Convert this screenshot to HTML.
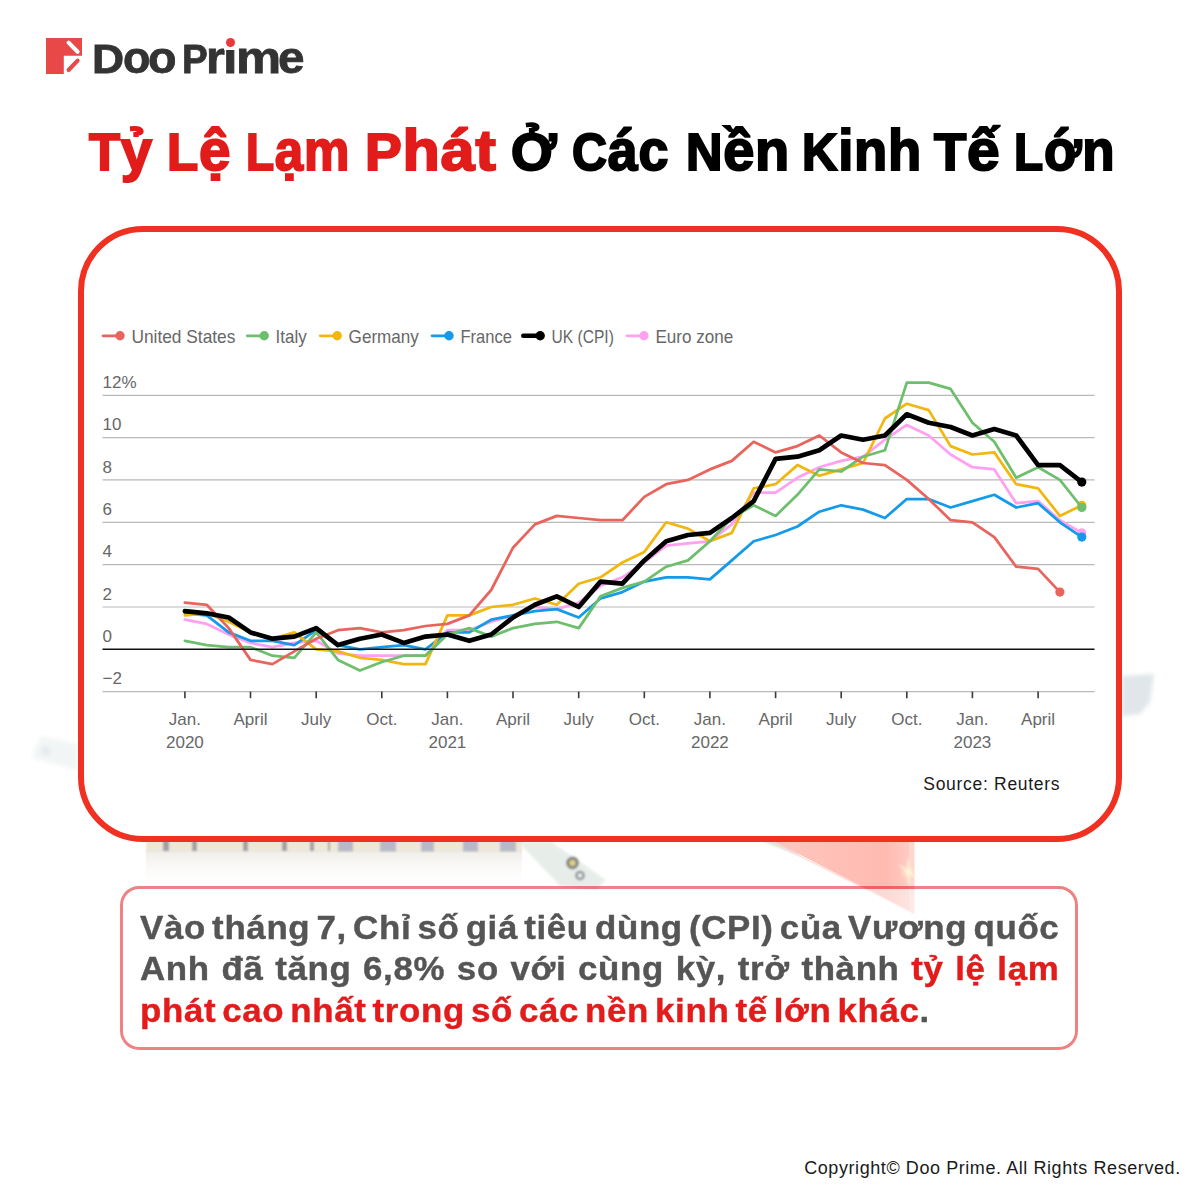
<!DOCTYPE html>
<html lang="vi"><head><meta charset="utf-8"><title>Tỷ Lệ Lạm Phát Ở Các Nền Kinh Tế Lớn</title>
<style>
html,body{margin:0;padding:0;}
body{width:1200px;height:1200px;position:relative;overflow:hidden;background:#fff;font-family:"Liberation Sans",sans-serif;}
.abs{position:absolute;}
#logo-text{left:0px;width:400px;height:56px;top:30.3px;font-size:41px;font-weight:bold;color:#333;line-height:56px;white-space:nowrap;-webkit-text-stroke:0.8px #333;}
#logo-text span{display:inline-block;transform-origin:0 50%;line-height:56px;}
#logo-text .l{font-size:45px;}
#title{left:0px;top:120.3px;width:1200px;height:60px;font-size:52.3px;line-height:60px;font-weight:bold;white-space:nowrap;color:#000;-webkit-text-stroke:2px #000;}
#title .w{position:absolute;top:0;display:inline-block;transform-origin:0 0;letter-spacing:0.8px;}
#title .lc{font-size:58px;}
#title .r{color:#E21B1B;-webkit-text-stroke:2px #E21B1B;}
#card{left:78.3px;top:225.8px;width:1031.4px;height:603.8px;border:6.2px solid #F03122;border-radius:65px;background:#fff;}
#chart{left:0;top:0;}
.ax{font-family:"Liberation Sans",sans-serif;font-size:17px;fill:#676767;}
.lg{font-family:"Liberation Sans",sans-serif;font-size:18.4px;fill:#676767;}
#source{left:923.3px;top:771.8px;font-size:17.5px;line-height:24px;color:#1a1a1a;letter-spacing:0.7px;white-space:nowrap;}
#box{left:120px;top:886px;width:952.4px;height:157.9px;border:3.7px solid rgba(225,30,35,0.56);border-radius:19px;background:rgba(255,255,255,0.45);background-clip:padding-box;}
#body{left:140.0px;top:907.6px;width:851.3px;transform:scaleX(1.08);transform-origin:0 0;word-spacing:-4.0px;font-size:32.3px;line-height:41.9px;font-weight:bold;color:#555;letter-spacing:0.6px;-webkit-text-stroke:0.4px;}
#body div{text-align:justify;text-align-last:justify;white-space:nowrap;height:41.9px;}
#body div.last{text-align:left;text-align-last:left;}
#body .r{color:#E21B1B;}
#copy{left:804.2px;top:1156px;font-size:18px;line-height:24px;color:#1a1a1a;letter-spacing:0.575px;white-space:nowrap;}
</style></head>
<body>
<!-- faint decorative background -->
<svg class="abs" id="bg" style="left:0;top:0" width="1200" height="1200" viewBox="0 0 1200 1200">
 <defs>
  <linearGradient id="fadeB" x1="0" y1="0" x2="0" y2="1"><stop offset="0" stop-color="#efece6" stop-opacity="1"/><stop offset="1" stop-color="#ffffff" stop-opacity="0"/></linearGradient>
  <linearGradient id="tri" x1="0" y1="0" x2="1" y2="0"><stop offset="0" stop-color="#ffc6be"/><stop offset="0.8" stop-color="#ffbab1"/><stop offset="1" stop-color="#ffcfc8"/></linearGradient>
  <radialGradient id="flare"><stop offset="0" stop-color="#fffbe8" stop-opacity="1"/><stop offset="0.35" stop-color="#ffe9c8" stop-opacity="0.75"/><stop offset="1" stop-color="#ffd0c0" stop-opacity="0"/></radialGradient>
  <filter id="bl3"><feGaussianBlur stdDeviation="3"/></filter>
  <filter id="bl2" x="-30%" y="-30%" width="160%" height="160%"><feGaussianBlur stdDeviation="2"/></filter>
  <filter id="bl1"><feGaussianBlur stdDeviation="0.8"/></filter>
 </defs>
 <!-- building strip + reflection -->
 <rect x="146" y="850" width="376" height="38" fill="url(#fadeB)"/>
 <g filter="url(#bl1)" opacity="0.85">
  <rect x="146" y="840" width="376" height="11.5" fill="#e9e3d5"/>
  <g fill="#8f9097"><rect x="163" y="840" width="6" height="11"/><rect x="192" y="840" width="5" height="11"/><rect x="243" y="840" width="5" height="11"/><rect x="282" y="840" width="5" height="11"/><rect x="310" y="840" width="4" height="11"/><rect x="328" y="840" width="2" height="11"/></g>
  <g fill="#a9afbb"><rect x="338" y="840" width="15" height="11.5"/><rect x="380" y="840" width="16" height="11.5"/><rect x="421" y="840" width="13" height="11.5"/><rect x="463" y="840" width="15" height="11.5"/><rect x="500" y="840" width="16" height="11.5"/></g>
 </g>
 <!-- banknotes -->
 <g filter="url(#bl1)" opacity="0.8">
  <polygon points="518,842 552,842 606,880 596,890 560,886" fill="#e2ebe6"/>
  <circle cx="572.5" cy="863" r="6.5" fill="#6b6b63"/><circle cx="572.5" cy="863" r="3" fill="#d9c46a"/>
  <circle cx="580" cy="875.5" r="5" fill="#7d8288"/><circle cx="580" cy="875.5" r="2.2" fill="#e8ecee"/>
 </g>
 <polygon points="1122,676 1154,674 1150,702 1140,714 1122,716" fill="#e0e6ea" filter="url(#bl2)"/>
 <g filter="url(#bl2)" opacity="0.45"><polygon points="40,736 78,744 78,770 32,758" fill="#e3eaea"/><circle cx="46" cy="751" r="4.5" fill="#c9cdd6"/></g>
 <!-- red triangle -->
 <polygon points="762,841 790,841 800,856" fill="#c9c9c9" opacity="0.6" filter="url(#bl1)"/>
 <polygon points="771.5,840 914.3,840 914.3,913.5" fill="url(#tri)"/>
 <line x1="771.5" y1="842" x2="914.3" y2="913.5" stroke="#ffd9d3" stroke-width="1.2"/>
 <clipPath id="triclip"><polygon points="771.5,840 914.3,840 914.3,913.5"/></clipPath>
 <g clip-path="url(#triclip)">
 <rect x="909" y="840" width="5.3" height="74" fill="#ffd6d0"/>
 <circle cx="908.5" cy="872" r="10" fill="url(#flare)"/>
 <ellipse cx="908.5" cy="872" rx="1.6" ry="14" fill="#fff4dc" opacity="0.7" filter="url(#bl1)"/>
 <ellipse cx="908.5" cy="872" rx="13" ry="1.4" fill="#fff4dc" opacity="0.7" filter="url(#bl1)" transform="rotate(38 908.5 872)"/>
 </g>
</svg>
<!-- logo -->
<svg class="abs" style="left:40px;top:30px" width="60" height="50" viewBox="40 30 60 50">
 <path d="M46 38H82V55.8H63.8V74H46Z" fill="#E84848"/>
 <line x1="68.6" y1="42.6" x2="77.6" y2="51.8" stroke="#fff" stroke-width="4.1" stroke-linecap="round"/>
 <line x1="68.6" y1="70" x2="77.6" y2="60.6" stroke="#E84848" stroke-width="4.1" stroke-linecap="round"/>
</svg>
<div class="abs" id="logo-text"><span class="c" style="margin-left:91.74px;transform:scaleX(1.0840)">D</span><span class="l" style="margin-left:1.26px;transform:scaleX(0.9960)">o</span><span class="l" style="margin-left:-2.18px;transform:scaleX(1.0375)">o</span> <span class="c" style="margin-left:-4.70px;transform:scaleX(0.9417)">P</span><span class="l" style="margin-left:-3.12px;transform:scaleX(1.0786)">r</span><span class="l" style="margin-left:-0.84px;transform:scaleX(1.1667)">i</span><span class="l" style="margin-left:0.10px;transform:scaleX(1.1286)">m</span><span class="l" style="margin-left:2.60px;transform:scaleX(1.0591)">e</span></div>
<div class="abs" style="left:224px;top:36px;width:13px;height:13.6px;background:#fff"></div>
<div class="abs" style="left:225.9px;top:38px;width:9px;height:9px;border-radius:50%;background:#E83A3A"></div>
<div class="abs" id="title"><span class="w r" style="left:89.21px;transform:scaleX(0.9704)">T<span class="lc">ỷ</span></span> <span class="w r" style="left:166.56px;transform:scaleX(0.9760)">L<span class="lc">ệ</span></span> <span class="w r" style="left:245.80px;transform:scaleX(0.8800)">L<span class="lc">ạm</span></span> <span class="w r" style="left:365.37px;transform:scaleX(1.0531)">P<span class="lc">hát</span></span> <span class="w" style="left:510.72px;transform:scaleX(1.0222)">Ở<span class="lc"></span></span> <span class="w" style="left:571.84px;transform:scaleX(0.9268)">C<span class="lc">ác</span></span> <span class="w" style="left:685.99px;transform:scaleX(0.9649)">N<span class="lc">ền</span></span> <span class="w" style="left:802.25px;transform:scaleX(0.9388)">K<span class="lc">inh</span></span> <span class="w" style="left:934.26px;transform:scaleX(1.0113)">T<span class="lc">ế</span></span> <span class="w" style="left:1014.22px;transform:scaleX(0.9124)">L<span class="lc">ớn</span></span></div>
<div class="abs" id="card"></div>
<svg class="abs" id="chart" width="1200" height="1200" viewBox="0 0 1200 1200">
<line x1="102.5" x2="1094.5" y1="395.3" y2="395.3" stroke="#b9b9b9" stroke-width="1.15"/>
<line x1="102.5" x2="1094.5" y1="437.6" y2="437.6" stroke="#b9b9b9" stroke-width="1.15"/>
<line x1="102.5" x2="1094.5" y1="479.9" y2="479.9" stroke="#b9b9b9" stroke-width="1.15"/>
<line x1="102.5" x2="1094.5" y1="522.3" y2="522.3" stroke="#b9b9b9" stroke-width="1.15"/>
<line x1="102.5" x2="1094.5" y1="564.6" y2="564.6" stroke="#b9b9b9" stroke-width="1.15"/>
<line x1="102.5" x2="1094.5" y1="607.0" y2="607.0" stroke="#b9b9b9" stroke-width="1.15"/>
<line x1="102.5" x2="1094.5" y1="691.6" y2="691.6" stroke="#b9b9b9" stroke-width="1.15"/>
<text x="102.5" y="387.9" class="ax">12%</text>
<text x="102.5" y="430.2" class="ax">10</text>
<text x="102.5" y="472.5" class="ax">8</text>
<text x="102.5" y="514.9" class="ax">6</text>
<text x="102.5" y="557.2" class="ax">4</text>
<text x="102.5" y="599.6" class="ax">2</text>
<text x="102.5" y="641.9" class="ax">0</text>
<text x="102.5" y="684.2" class="ax">−2</text>
<polyline points="184.9,619.7 206.8,623.9 228.7,634.5 250.5,642.9 272.4,647.2 294.3,642.9 316.2,640.8 338.0,653.5 359.9,655.7 381.8,655.7 403.7,655.7 425.5,655.7 447.4,630.2 469.3,630.2 491.2,621.8 513.0,615.4 534.9,607.0 556.8,609.1 578.7,602.7 600.5,585.8 622.4,577.3 644.3,562.5 666.2,545.6 688.0,543.4 709.9,541.3 731.8,524.4 753.7,492.6 775.6,492.6 797.4,477.8 819.3,467.2 841.2,460.9 863.1,456.7 884.9,439.7 906.8,424.9 928.7,435.5 950.6,454.5 972.4,467.2 994.3,469.4 1016.2,503.2 1038.1,501.1 1059.9,520.2 1081.8,532.9" fill="none" stroke="#FFA0F0" stroke-width="2.75" stroke-linejoin="round" stroke-linecap="round"/>
<circle cx="1081.8" cy="532.9" r="4.6" fill="#FFA0F0"/>

<polyline points="184.9,613.3 206.8,615.4 228.7,632.4 250.5,640.8 272.4,640.8 294.3,645.1 316.2,630.2 338.0,645.1 359.9,649.3 381.8,647.2 403.7,645.1 425.5,649.3 447.4,632.4 469.3,632.4 491.2,619.7 513.0,615.4 534.9,611.2 556.8,609.1 578.7,617.5 600.5,598.5 622.4,592.1 644.3,581.6 666.2,577.3 688.0,577.3 709.9,579.4 731.8,560.4 753.7,541.3 775.6,535.0 797.4,526.5 819.3,511.7 841.2,505.3 863.1,509.6 884.9,518.0 906.8,499.0 928.7,499.0 950.6,507.5 972.4,501.1 994.3,494.8 1016.2,507.5 1038.1,503.2 1059.9,522.3 1081.8,537.1" fill="none" stroke="#139BEA" stroke-width="2.75" stroke-linejoin="round" stroke-linecap="round"/>
<circle cx="1081.8" cy="537.1" r="4.6" fill="#139BEA"/>

<polyline points="184.9,615.4 206.8,613.3 228.7,621.8 250.5,632.4 272.4,638.7 294.3,632.4 316.2,649.3 338.0,651.4 359.9,657.8 381.8,659.9 403.7,664.1 425.5,664.1 447.4,615.4 469.3,615.4 491.2,607.0 513.0,604.8 534.9,598.5 556.8,604.8 578.7,583.7 600.5,577.3 622.4,562.5 644.3,551.9 666.2,522.3 688.0,528.6 709.9,541.3 731.8,532.9 753.7,488.4 775.6,484.2 797.4,465.1 819.3,475.7 841.2,469.4 863.1,463.0 884.9,418.5 906.8,403.7 928.7,410.1 950.6,446.1 972.4,454.5 994.3,452.4 1016.2,484.2 1038.1,488.4 1059.9,515.9 1081.8,505.3" fill="none" stroke="#F2B70F" stroke-width="2.75" stroke-linejoin="round" stroke-linecap="round"/>
<circle cx="1081.8" cy="505.3" r="4.6" fill="#F2B70F"/>

<polyline points="184.9,640.8 206.8,645.1 228.7,647.2 250.5,647.2 272.4,655.7 294.3,657.8 316.2,632.4 338.0,659.9 359.9,670.5 381.8,662.0 403.7,655.7 425.5,655.7 447.4,634.5 469.3,628.1 491.2,636.6 513.0,628.1 534.9,623.9 556.8,621.8 578.7,628.1 600.5,596.4 622.4,587.9 644.3,581.6 666.2,566.7 688.0,560.4 709.9,541.3 731.8,518.0 753.7,505.3 775.6,515.9 797.4,494.8 819.3,469.4 841.2,471.5 863.1,456.7 884.9,450.3 906.8,382.6 928.7,382.6 950.6,388.9 972.4,422.8 994.3,441.8 1016.2,477.8 1038.1,467.2 1059.9,479.9 1081.8,507.5" fill="none" stroke="#6DBE6D" stroke-width="2.75" stroke-linejoin="round" stroke-linecap="round"/>
<circle cx="1081.8" cy="507.5" r="4.6" fill="#6DBE6D"/>

<polyline points="184.9,602.7 206.8,604.8 228.7,628.1 250.5,659.9 272.4,664.1 294.3,651.4 316.2,638.7 338.0,630.2 359.9,628.1 381.8,632.4 403.7,630.2 425.5,626.0 447.4,623.9 469.3,615.4 491.2,590.0 513.0,547.7 534.9,524.4 556.8,515.9 578.7,518.0 600.5,520.2 622.4,520.2 644.3,496.9 666.2,484.2 688.0,479.9 709.9,469.4 731.8,460.9 753.7,441.8 775.6,452.4 797.4,446.1 819.3,435.5 841.2,452.4 863.1,463.0 884.9,465.1 906.8,479.9 928.7,499.0 950.6,520.2 972.4,522.3 994.3,537.1 1016.2,566.7 1038.1,568.9 1059.9,592.1" fill="none" stroke="#E8645C" stroke-width="2.75" stroke-linejoin="round" stroke-linecap="round"/>
<circle cx="1059.9" cy="592.1" r="4.6" fill="#E8645C"/>

<line x1="102.5" x2="1094.5" y1="649.3" y2="649.3" stroke="#111" stroke-width="1.4"/>
<polyline points="184.9,611.2 206.8,613.3 228.7,617.5 250.5,632.4 272.4,638.7 294.3,636.6 316.2,628.1 338.0,645.1 359.9,638.7 381.8,634.5 403.7,642.9 425.5,636.6 447.4,634.5 469.3,640.8 491.2,634.5 513.0,617.5 534.9,604.8 556.8,596.4 578.7,607.0 600.5,581.6 622.4,583.7 644.3,560.4 666.2,541.3 688.0,535.0 709.9,532.9 731.8,518.0 753.7,501.1 775.6,458.8 797.4,456.7 819.3,450.3 841.2,435.5 863.1,439.7 884.9,435.5 906.8,414.3 928.7,422.8 950.6,427.0 972.4,435.5 994.3,429.1 1016.2,435.5 1038.1,465.1 1059.9,465.1 1081.8,482.1" fill="none" stroke="#000000" stroke-width="4.7" stroke-linejoin="round" stroke-linecap="round"/>
<circle cx="1081.8" cy="482.1" r="4.6" fill="#000000"/>

<line x1="184.9" x2="184.9" y1="691.6" y2="698.2" stroke="#3a3a3a" stroke-width="1.6"/>
<text x="184.9" y="724.6" class="ax" text-anchor="middle">Jan.</text>
<text x="184.9" y="748.2" class="ax" text-anchor="middle">2020</text>
<line x1="250.5" x2="250.5" y1="691.6" y2="698.2" stroke="#3a3a3a" stroke-width="1.6"/>
<text x="250.5" y="724.6" class="ax" text-anchor="middle">April</text>
<line x1="316.2" x2="316.2" y1="691.6" y2="698.2" stroke="#3a3a3a" stroke-width="1.6"/>
<text x="316.2" y="724.6" class="ax" text-anchor="middle">July</text>
<line x1="381.8" x2="381.8" y1="691.6" y2="698.2" stroke="#3a3a3a" stroke-width="1.6"/>
<text x="381.8" y="724.6" class="ax" text-anchor="middle">Oct.</text>
<line x1="447.4" x2="447.4" y1="691.6" y2="698.2" stroke="#3a3a3a" stroke-width="1.6"/>
<text x="447.4" y="724.6" class="ax" text-anchor="middle">Jan.</text>
<text x="447.4" y="748.2" class="ax" text-anchor="middle">2021</text>
<line x1="513.0" x2="513.0" y1="691.6" y2="698.2" stroke="#3a3a3a" stroke-width="1.6"/>
<text x="513.0" y="724.6" class="ax" text-anchor="middle">April</text>
<line x1="578.7" x2="578.7" y1="691.6" y2="698.2" stroke="#3a3a3a" stroke-width="1.6"/>
<text x="578.7" y="724.6" class="ax" text-anchor="middle">July</text>
<line x1="644.3" x2="644.3" y1="691.6" y2="698.2" stroke="#3a3a3a" stroke-width="1.6"/>
<text x="644.3" y="724.6" class="ax" text-anchor="middle">Oct.</text>
<line x1="709.9" x2="709.9" y1="691.6" y2="698.2" stroke="#3a3a3a" stroke-width="1.6"/>
<text x="709.9" y="724.6" class="ax" text-anchor="middle">Jan.</text>
<text x="709.9" y="748.2" class="ax" text-anchor="middle">2022</text>
<line x1="775.6" x2="775.6" y1="691.6" y2="698.2" stroke="#3a3a3a" stroke-width="1.6"/>
<text x="775.6" y="724.6" class="ax" text-anchor="middle">April</text>
<line x1="841.2" x2="841.2" y1="691.6" y2="698.2" stroke="#3a3a3a" stroke-width="1.6"/>
<text x="841.2" y="724.6" class="ax" text-anchor="middle">July</text>
<line x1="906.8" x2="906.8" y1="691.6" y2="698.2" stroke="#3a3a3a" stroke-width="1.6"/>
<text x="906.8" y="724.6" class="ax" text-anchor="middle">Oct.</text>
<line x1="972.4" x2="972.4" y1="691.6" y2="698.2" stroke="#3a3a3a" stroke-width="1.6"/>
<text x="972.4" y="724.6" class="ax" text-anchor="middle">Jan.</text>
<text x="972.4" y="748.2" class="ax" text-anchor="middle">2023</text>
<line x1="1038.1" x2="1038.1" y1="691.6" y2="698.2" stroke="#3a3a3a" stroke-width="1.6"/>
<text x="1038.1" y="724.6" class="ax" text-anchor="middle">April</text>
<line x1="103" x2="120" y1="335.8" y2="335.8" stroke="#E8645C" stroke-width="2.75" stroke-linecap="round"/>
<circle cx="120" cy="335.8" r="4.7" fill="#E8645C"/>
<text x="131.4" y="343.4" class="lg" textLength="104" lengthAdjust="spacingAndGlyphs">United States</text>
<line x1="247.2" x2="264.2" y1="335.8" y2="335.8" stroke="#6DBE6D" stroke-width="2.75" stroke-linecap="round"/>
<circle cx="264.2" cy="335.8" r="4.7" fill="#6DBE6D"/>
<text x="275.59999999999997" y="343.4" class="lg" textLength="31.2" lengthAdjust="spacingAndGlyphs">Italy</text>
<line x1="320.2" x2="337.2" y1="335.8" y2="335.8" stroke="#F2B70F" stroke-width="2.75" stroke-linecap="round"/>
<circle cx="337.2" cy="335.8" r="4.7" fill="#F2B70F"/>
<text x="348.59999999999997" y="343.4" class="lg" textLength="70.3" lengthAdjust="spacingAndGlyphs">Germany</text>
<line x1="432" x2="449" y1="335.8" y2="335.8" stroke="#139BEA" stroke-width="2.75" stroke-linecap="round"/>
<circle cx="449" cy="335.8" r="4.7" fill="#139BEA"/>
<text x="460.4" y="343.4" class="lg" textLength="51.5" lengthAdjust="spacingAndGlyphs">France</text>
<line x1="523.2" x2="540.2" y1="335.8" y2="335.8" stroke="#000000" stroke-width="4.4" stroke-linecap="round"/>
<circle cx="540.2" cy="335.8" r="4.7" fill="#000000"/>
<text x="551.6" y="343.4" class="lg" textLength="62.3" lengthAdjust="spacingAndGlyphs">UK (CPI)</text>
<line x1="627" x2="644" y1="335.8" y2="335.8" stroke="#FFA0F0" stroke-width="2.75" stroke-linecap="round"/>
<circle cx="644" cy="335.8" r="4.7" fill="#FFA0F0"/>
<text x="655.4" y="343.4" class="lg" textLength="77.9" lengthAdjust="spacingAndGlyphs">Euro zone</text>
</svg>
<div class="abs" id="source">Source: Reuters</div>
<div class="abs" id="box"></div>
<div class="abs" id="body">
<div>Vào tháng 7, Chỉ số giá tiêu dùng (CPI) của Vương quốc</div>
<div>Anh đã tăng 6,8% so với cùng kỳ, trở thành <span class="r">tỷ lệ lạm</span></div>
<div class="last"><span class="r">phát cao nhất trong số các nền kinh tế lớn khác</span>.</div>
</div>
<div class="abs" id="copy">Copyright© Doo Prime. All Rights Reserved.</div>
</body></html>
